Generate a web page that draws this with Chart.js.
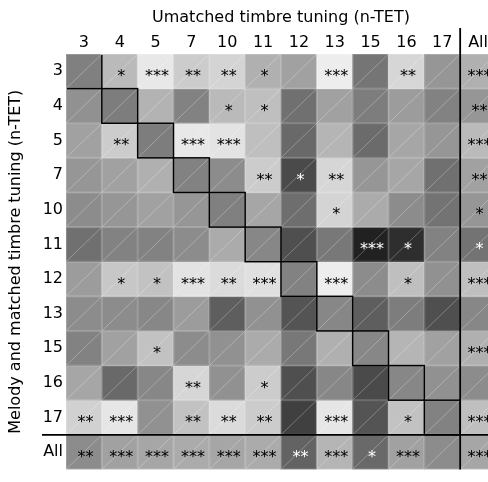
<!DOCTYPE html>
<html>
<head>
<meta charset="utf-8">
<script src="https://cdn.jsdelivr.net/npm/chart.js@4/dist/chart.umd.min.js"></script>
<style>
html, body { margin: 0; padding: 0; overflow: hidden; background: #fff; }
#wrap { position: absolute; left: 0; top: 0; width: 496px; height: 482px; }
</style>
</head>
<body>
<div id="wrap"><canvas id="chart" width="496" height="482"></canvas></div>
<script>
// column / row categories (n-TET tunings)
var cols = ['3', '4', '5', '7', '10', '11', '12', '13', '15', '16', '17', 'All'];
var rows = ['3', '4', '5', '7', '10', '11', '12', '13', '15', '16', '17', 'All'];

// cell value (0 = black, 1 = white), one array per row
var shade = [
    [0.50, 0.73, 0.91, 0.80, 0.83, 0.69, 0.63, 0.93, 0.46, 0.84, 0.59, 0.69],
    [0.57, 0.49, 0.70, 0.51, 0.73, 0.75, 0.44, 0.63, 0.49, 0.61, 0.51, 0.59],
    [0.63, 0.80, 0.49, 0.91, 0.89, 0.75, 0.41, 0.71, 0.42, 0.65, 0.59, 0.73],
    [0.59, 0.63, 0.69, 0.51, 0.55, 0.80, 0.29, 0.84, 0.59, 0.65, 0.44, 0.63],
    [0.55, 0.59, 0.63, 0.59, 0.50, 0.65, 0.43, 0.83, 0.67, 0.55, 0.45, 0.59],
    [0.44, 0.51, 0.51, 0.55, 0.67, 0.53, 0.31, 0.47, 0.13, 0.18, 0.51, 0.45],
    [0.61, 0.78, 0.76, 0.89, 0.86, 0.88, 0.51, 0.93, 0.55, 0.75, 0.57, 0.75],
    [0.55, 0.55, 0.53, 0.61, 0.37, 0.57, 0.33, 0.53, 0.37, 0.49, 0.31, 0.53],
    [0.51, 0.63, 0.76, 0.55, 0.57, 0.67, 0.47, 0.69, 0.53, 0.71, 0.63, 0.69],
    [0.65, 0.41, 0.53, 0.84, 0.57, 0.80, 0.31, 0.53, 0.29, 0.53, 0.57, 0.55],
    [0.82, 0.90, 0.57, 0.76, 0.86, 0.80, 0.25, 0.90, 0.33, 0.76, 0.51, 0.75],
    [0.55, 0.63, 0.65, 0.67, 0.65, 0.67, 0.39, 0.71, 0.41, 0.63, 0.55, 0.65]
];

// significance stars per cell
var stars = [
    [0, 1, 3, 2, 2, 1, 0, 3, 0, 2, 0, 3],
    [0, 0, 0, 0, 1, 1, 0, 0, 0, 0, 0, 2],
    [0, 2, 0, 3, 3, 0, 0, 0, 0, 0, 0, 3],
    [0, 0, 0, 0, 0, 2, 1, 2, 0, 0, 0, 2],
    [0, 0, 0, 0, 0, 0, 0, 1, 0, 0, 0, 1],
    [0, 0, 0, 0, 0, 0, 0, 0, 3, 1, 0, 1],
    [0, 1, 1, 3, 2, 3, 0, 3, 0, 1, 0, 3],
    [0, 0, 0, 0, 0, 0, 0, 0, 0, 0, 0, 0],
    [0, 0, 1, 0, 0, 0, 0, 0, 0, 0, 0, 3],
    [0, 0, 0, 2, 0, 1, 0, 0, 0, 0, 0, 0],
    [2, 3, 0, 2, 2, 2, 0, 3, 0, 1, 0, 3],
    [2, 3, 3, 3, 3, 3, 2, 3, 1, 3, 0, 3]
];

var FONT = 'DejaVu Sans';

function gray(v) {
    var g = Math.round(v * 255);
    return 'rgb(' + g + ',' + g + ',' + g + ')';
}

var datasets = rows.map(function(r, i) {
    return {
        label: r,
        data: cols.map(function() { return [i, i + 1]; }),
        backgroundColor: shade[i].map(gray),
        borderWidth: 0,
        barPercentage: 1,
        categoryPercentage: 1,
        grouped: false
    };
});

// diagonal hatch, diagonal boxes, separators and stars
var decor = {
    id: 'decor',
    afterDatasetsDraw: function(chart) {
        var ctx = chart.ctx;
        var area = chart.chartArea;
        var xs = chart.scales.x, ys = chart.scales.y;
        var cw = xs.width / cols.length;
        var n = cols.length - 1;

        ctx.save();
        for (var i = 0; i < rows.length; i++) {
            var top = ys.getPixelForValue(i), bot = ys.getPixelForValue(i + 1);
            for (var j = 0; j < cols.length; j++) {
                var cx = xs.getPixelForValue(j);
                var l = cx - cw / 2, r = cx + cw / 2;
                ctx.strokeStyle = 'rgba(255,255,255,0.18)';
                ctx.lineWidth = 1;
                ctx.strokeRect(l + 0.5, top + 0.5, r - l - 1, bot - top - 1);
                ctx.strokeStyle = 'rgba(255,255,255,0.35)';
                ctx.lineWidth = 0.8;
                ctx.beginPath();
                ctx.moveTo(l, bot);
                ctx.lineTo(r, top);
                ctx.stroke();
            }
        }

        // boxes round the matched (diagonal) cells, clipped at the outer edge
        ctx.save();
        ctx.beginPath();
        ctx.rect(area.left + 1, area.top + 1, area.right - area.left, area.bottom - area.top);
        ctx.clip();
        ctx.strokeStyle = '#000';
        ctx.lineWidth = 1.5;
        for (var k = 0; k < n; k++) {
            var c = xs.getPixelForValue(k);
            var t = ys.getPixelForValue(k), b = ys.getPixelForValue(k + 1);
            ctx.strokeRect(c - cw / 2, t, cw, b - t);
        }
        ctx.restore();

        // separators before "All"
        var sx = xs.getPixelForValue(n) - cw / 2;
        var sy = ys.getPixelForValue(n);
        ctx.strokeStyle = '#000';
        ctx.lineWidth = 1.8;
        ctx.beginPath();
        ctx.moveTo(sx, xs.top + 28);
        ctx.lineTo(sx, ys.bottom);
        ctx.moveTo(ys.left + 42, sy);
        ctx.lineTo(xs.right, sy);
        ctx.stroke();

        // stars
        ctx.font = '16px "' + FONT + '"';
        ctx.textAlign = 'center';
        ctx.textBaseline = 'middle';
        for (var i2 = 0; i2 < rows.length; i2++) {
            var cy = (ys.getPixelForValue(i2) + ys.getPixelForValue(i2 + 1)) / 2;
            for (var j2 = 0; j2 < cols.length; j2++) {
                var s = stars[i2][j2];
                if (!s) continue;
                ctx.fillStyle = shade[i2][j2] < 0.48 ? '#fff' : '#000';
                ctx.fillText('*'.repeat(s), xs.getPixelForValue(j2) + 1.5, cy + 5.5);
            }
        }
        ctx.restore();
    }
};

var chart = new Chart(document.getElementById('chart').getContext('2d'), {
    type: 'bar',
    data: { labels: cols, datasets: datasets },
    options: {
        responsive: false,
        animation: false,
        devicePixelRatio: 1,
        layout: { padding: 0 },
        plugins: { legend: { display: false }, tooltip: { enabled: false } },
        scales: {
            x: {
                type: 'category',
                position: 'top',
                offset: true,
                grid: { display: false, drawTicks: false },
                border: { display: false },
                ticks: { color: '#000', font: { family: FONT, size: 16 }, padding: 2, maxRotation: 0, autoSkip: false },
                title: { display: true, text: 'Umatched timbre tuning (n-TET)', color: '#000',
                         font: { family: FONT, size: 16 }, padding: { top: 8, bottom: 0 } },
                afterFit: function(s) { s.height = 54; }
            },
            y: {
                type: 'linear',
                min: 0,
                max: 12,
                reverse: true,
                grid: { display: false, drawTicks: false },
                border: { display: false },
                afterBuildTicks: function(s) {
                    s.ticks = rows.map(function(r, i) { return { value: i + 0.5 }; });
                },
                ticks: {
                    color: '#000', font: { family: FONT, size: 16 }, padding: 3, autoSkip: false,
                    callback: function(v) { return rows[Math.floor(v)]; }
                },
                title: { display: true, text: 'Melody and matched timbre tuning (n-TET)', color: '#000',
                         font: { family: FONT, size: 16 }, padding: { top: 6, bottom: 0 } },
                afterFit: function(s) { s.width = 66; }
            }
        }
    },
    plugins: [decor]
});
</script>
</body>
</html>
